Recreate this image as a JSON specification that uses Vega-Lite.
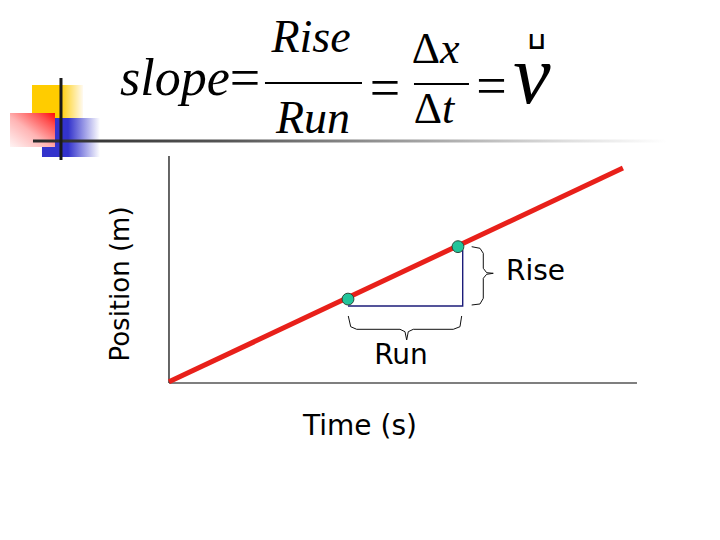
{
  "$schema": "https://vega.github.io/schema/vega-lite/v6.json",
  "width": 720,
  "height": 540,
  "autosize": {"type": "fit", "contains": "padding"},
  "padding": 0,
  "background": "white",
  "config": {"view": {"stroke": null}},
  "encoding": {
    "x": {"field": "x", "type": "quantitative", "scale": {"domain": [-3.611, 11.774], "nice": false, "zero": false}, "axis": null},
    "y": {"field": "y", "type": "quantitative", "scale": {"domain": [-6.886, 16.798], "nice": false, "zero": false}, "axis": null}
  },
  "layer": [
    {
      "data": {"values": [{"x": -2.927, "x2": -1.838, "y": 13.07, "y2": 11.623}]},
      "mark": {"type": "rect", "fill": {"gradient": "linear", "x1": 0, "y1": 0, "x2": 1, "y2": 0, "stops": [{"offset": 0, "color": "#ffcc00"}, {"offset": 0.55, "color": "#ffcc00"}, {"offset": 1, "color": "#fffaf0"}]}},
      "encoding": {"x2": {"field": "x2"}, "y2": {"field": "y2"}}
    },
    {
      "data": {"values": [{"x": -2.714, "x2": -1.474, "y": 11.623, "y2": 9.912}]},
      "mark": {"type": "rect", "fill": {"gradient": "linear", "x1": 0, "y1": 0, "x2": 1, "y2": 0, "stops": [{"offset": 0, "color": "#3333cc"}, {"offset": 0.45, "color": "#3333cc"}, {"offset": 1, "color": "#ffffff"}]}},
      "encoding": {"x2": {"field": "x2"}, "y2": {"field": "y2"}}
    },
    {
      "data": {"values": [{"x": -3.397, "x2": -2.436, "y": 11.842, "y2": 10.351}]},
      "mark": {"type": "rect", "fill": {"gradient": "linear", "x1": 0, "y1": 1, "x2": 1, "y2": 0, "stops": [{"offset": 0, "color": "#fff4f4"}, {"offset": 0.45, "color": "#ffb4b4"}, {"offset": 0.8, "color": "#ff5050"}, {"offset": 1, "color": "#ff0808"}]}},
      "encoding": {"x2": {"field": "x2"}, "y2": {"field": "y2"}}
    },
    {
      "data": {"values": [{"x": -2.906, "x2": 10.641, "y": 10.68, "y2": 10.548}]},
      "mark": {"type": "rect", "fill": {"gradient": "linear", "x1": 0, "y1": 0, "x2": 1, "y2": 0, "stops": [{"offset": 0, "color": "#2a2a2a"}, {"offset": 0.3, "color": "#555555"}, {"offset": 0.6, "color": "#a0a0a0"}, {"offset": 0.85, "color": "#e0e0e0"}, {"offset": 1, "color": "#ffffff"}]}},
      "encoding": {"x2": {"field": "x2"}, "y2": {"field": "y2"}}
    },
    {
      "data": {"values": [{"x": -2.308, "y": 13.377, "y2": 9.781}]},
      "mark": {"type": "rule", "stroke": "#1a1a1a", "strokeWidth": 3},
      "encoding": {"y2": {"field": "y2"}}
    },
    {
      "data": {"values": [{"x": 0, "y": 0, "x2": 10.0, "y2": 0}, {"x": 0, "y": 0, "x2": 0, "y2": 9.956}]},
      "mark": {"type": "rule", "stroke": "#000000", "strokeWidth": 1.2},
      "encoding": {"x2": {"field": "x2"}, "y2": {"field": "y2"}}
    },
    {
      "data": {"values": [{"i": 0, "x": 3.825, "y": 3.377}, {"i": 1, "x": 6.276, "y": 3.377}, {"i": 2, "x": 6.276, "y": 5.833}]},
      "mark": {"type": "line", "stroke": "#1c1c7a", "strokeWidth": 1.4},
      "encoding": {"order": {"field": "i", "type": "quantitative"}}
    },
    {
      "data": {"values": [
        {"b": "run", "i": 0, "x": 3.831, "y": 2.939},
        {"b": "run", "i": 1, "x": 3.883, "y": 2.469},
        {"b": "run", "i": 2, "x": 4.011, "y": 2.355},
        {"b": "run", "i": 3, "x": 4.936, "y": 2.355},
        {"b": "run", "i": 4, "x": 5.043, "y": 2.25},
        {"b": "run", "i": 5, "x": 5.079, "y": 1.886},
        {"b": "run", "i": 6, "x": 5.113, "y": 2.25},
        {"b": "run", "i": 7, "x": 5.22, "y": 2.355},
        {"b": "run", "i": 8, "x": 6.075, "y": 2.355},
        {"b": "run", "i": 9, "x": 6.218, "y": 2.469},
        {"b": "run", "i": 10, "x": 6.254, "y": 2.939},
        {"b": "rise", "i": 0, "x": 6.468, "y": 5.978},
        {"b": "rise", "i": 1, "x": 6.645, "y": 5.908},
        {"b": "rise", "i": 2, "x": 6.716, "y": 5.689},
        {"b": "rise", "i": 3, "x": 6.716, "y": 5.031},
        {"b": "rise", "i": 4, "x": 6.788, "y": 4.838},
        {"b": "rise", "i": 5, "x": 6.929, "y": 4.811},
        {"b": "rise", "i": 6, "x": 6.788, "y": 4.768},
        {"b": "rise", "i": 7, "x": 6.716, "y": 4.592},
        {"b": "rise", "i": 8, "x": 6.716, "y": 3.715},
        {"b": "rise", "i": 9, "x": 6.645, "y": 3.465},
        {"b": "rise", "i": 10, "x": 6.468, "y": 3.421}
      ]},
      "mark": {"type": "line", "stroke": "#111111", "strokeWidth": 1, "interpolate": "linear"},
      "encoding": {"detail": {"field": "b", "type": "nominal"}, "order": {"field": "i", "type": "quantitative"}}
    },
    {
      "data": {"values": [{"i": 0, "x": 0, "y": 0.05}, {"i": 1, "x": 9.7, "y": 9.43}]},
      "mark": {"type": "line", "stroke": "#e8201a", "strokeWidth": 5},
      "encoding": {"order": {"field": "i", "type": "quantitative"}}
    },
    {
      "data": {"values": [{"x": 3.825, "y": 3.68}, {"x": 6.175, "y": 5.98}]},
      "mark": {"type": "point", "shape": "circle", "filled": true, "fill": "#22c49a", "stroke": "#2a4a3a", "strokeWidth": 1, "size": 140, "opacity": 1}
    },
    {
      "data": {"values": [{"x": -1.047, "y": 12.632, "t": "slope"}]},
      "mark": {"type": "text", "font": "Liberation Serif", "fontStyle": "italic", "fontSize": 52, "align": "left", "baseline": "alphabetic", "color": "#000000"},
      "encoding": {"text": {"field": "t"}}
    },
    {
      "data": {"values": [{"x": 1.624, "y": 12.588, "t": "="}, {"x": 4.615, "y": 12.149, "t": "="}, {"x": 6.891, "y": 12.215, "t": "="}]},
      "mark": {"type": "text", "font": "Liberation Serif", "fontSize": 54, "align": "center", "baseline": "alphabetic", "color": "#000000"},
      "encoding": {"text": {"field": "t"}}
    },
    {
      "data": {"values": [{"x": 3.034, "y": 14.518, "t": "Rise"}, {"x": 3.077, "y": 10.965, "t": "Run"}]},
      "mark": {"type": "text", "font": "Liberation Serif", "fontStyle": "italic", "fontSize": 46, "align": "center", "baseline": "alphabetic", "color": "#000000"},
      "encoding": {"text": {"field": "t"}}
    },
    {
      "data": {"values": [{"x": 2.051, "x2": 4.124, "y": 13.158}, {"x": 5.235, "x2": 6.41, "y": 13.114}]},
      "mark": {"type": "rule", "stroke": "#000000", "strokeWidth": 2.2},
      "encoding": {"x2": {"field": "x2"}}
    },
    {
      "data": {"values": [{"x": 5.791, "y": 14.035, "t": "Δ"}, {"x": 5.833, "y": 11.404, "t": "Δ"}]},
      "mark": {"type": "text", "font": "Liberation Serif", "fontSize": 44, "align": "right", "baseline": "alphabetic", "color": "#000000"},
      "encoding": {"text": {"field": "t"}}
    },
    {
      "data": {"values": [{"x": 5.791, "y": 14.035, "t": "x"}, {"x": 5.833, "y": 11.404, "t": "t"}]},
      "mark": {"type": "text", "font": "Liberation Serif", "fontStyle": "italic", "fontSize": 44, "align": "left", "baseline": "alphabetic", "color": "#000000"},
      "encoding": {"text": {"field": "t"}}
    },
    {
      "data": {"values": [{"x": 7.756, "y": 12.281, "t": "v"}]},
      "mark": {"type": "text", "font": "Liberation Serif", "fontStyle": "italic", "fontSize": 84, "align": "center", "baseline": "alphabetic", "color": "#000000"},
      "encoding": {"text": {"field": "t"}}
    },
    {
      "data": {"values": [{"x": 7.863, "y": 14.95, "t": "⊔"}]},
      "mark": {"type": "text", "font": "DejaVu Sans", "fontWeight": "bold", "fontSize": 24, "align": "center", "baseline": "middle", "color": "#000000"},
      "encoding": {"text": {"field": "t"}}
    },
    {
      "data": {"values": [{"x": 7.201, "y": 4.518, "t": "Rise"}]},
      "mark": {"type": "text", "font": "DejaVu Sans", "fontSize": 28, "align": "left", "baseline": "alphabetic", "color": "#000000"},
      "encoding": {"text": {"field": "t"}}
    },
    {
      "data": {"values": [{"x": 4.957, "y": 0.833, "t": "Run"}, {"x": 4.081, "y": -2.281, "t": "Time (s)"}]},
      "mark": {"type": "text", "font": "DejaVu Sans", "fontSize": 28, "align": "center", "baseline": "alphabetic", "color": "#000000"},
      "encoding": {"text": {"field": "t"}}
    },
    {
      "data": {"values": [{"x": -0.855, "y": 4.342, "t": "Position (m)"}]},
      "mark": {"type": "text", "font": "DejaVu Sans", "fontSize": 26, "angle": 270, "align": "center", "baseline": "alphabetic", "color": "#000000"},
      "encoding": {"text": {"field": "t"}}
    }
  ]
}
